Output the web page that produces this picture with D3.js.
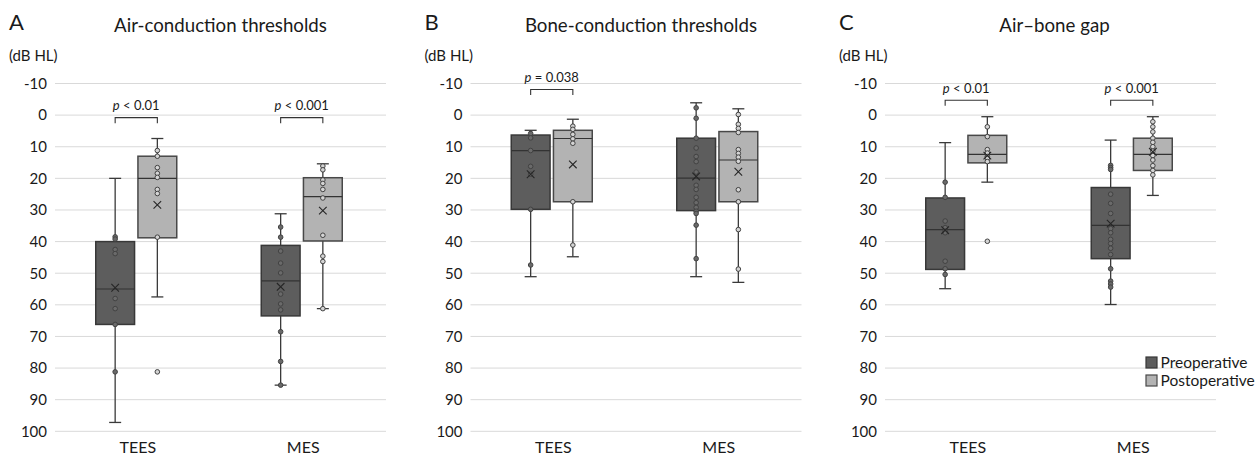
<!DOCTYPE html>
<html>
<head>
<meta charset="utf-8">
<script src="https://cdn.jsdelivr.net/npm/d3@7"></script>
<style>
  body { margin: 0; background: #fff; }
  text { font-family: Lato, "Noto Sans", sans-serif; fill: #1a1a1a; }
</style>
</head>
<body>
<div class="box"></div>
<script>
// categories / series
const categories = ['TEES', 'MES'];
const groups = ['Preoperative', 'Postoperative'];
const yTicks = [-10, 0, 10, 20, 30, 40, 50, 60, 70, 80, 90, 100];
const panelLetters = ['A', 'B', 'C'];
const panelTitles = ['Air-conduction thresholds', 'Bone-conduction thresholds', 'Air\u2013bone gap'];

// per panel, order: TEES pre, TEES post, MES pre, MES post  (dB HL)
const whiskerMin = [[20, 7.4, 31.2, 15.4], [4.8, 1.3, -3.9, -2.0], [8.7, 0.5, 7.9, 0.5]];
const quart1 = [[40, 13, 41.2, 19.8], [6.3, 4.8, 7.3, 5.2], [26.2, 6.4, 22.9, 7.3]];
const medians = [[55, 20, 52.4, 25.8], [11.2, 7.4, 19.9, 14.2], [36.2, 12.4, 34.9, 12.4]];
const quart3 = [[66.2, 38.8, 63.5, 39.8], [29.8, 27.4, 30.2, 27.4], [48.8, 15.1, 45.4, 17.5]];
const whiskerMax = [[97.2, 57.5, 85.4, 61.2], [51.1, 44.8, 51.1, 52.9], [54.9, 21.2, 59.9, 25.4]];
const means = [[54.6, 28.4, 54.3, 30.2], [18.7, 15.6, 19.4, 17.9], [36.4, 12.8, 34.3, 11.6]];
const airPoints = [
  [38.5, 39.2, 42.5, 43.8, 58, 61.2, 66.2, 81.2],
  [11.2, 13, 16.6, 18.4, 19.7, 23.5, 24.8, 38.6, 81.2],
  [35.4, 38.6, 43, 46.8, 49.9, 56.6, 59.7, 61.6, 68.5, 77.9, 85.4],
  [16.1, 17.3, 20.5, 21.6, 23.5, 26.2, 38, 44.6, 46.3, 61.2]
];
const bonePoints = [
  [5.8, 7.2, 11.2, 16.2, 18.7, 29.8, 47.4],
  [3.5, 4.5, 6.1, 7.5, 8.9, 27.4, 41.1],
  [-2.3, 1.0, 7.3, 10.4, 13.1, 14.7, 18, 22.2, 23.5, 26, 27.7, 29.2, 30.4, 31.1, 34.8, 45.4],
  [-0.2, 2.9, 4.2, 5.5, 10.9, 12.1, 13.3, 14.6, 23.6, 27.4, 36.2, 48.7]
];
const gapPoints = [
  [21.2, 26, 33.5, 35.6, 36.7, 37.2, 46.2, 48.6, 50.4],
  [3.7, 6.8, 10.9, 12, 13.1, 13.6, 14.7, 39.9],
  [15.9, 16.6, 17.2, 25, 27.9, 31.1, 35.9, 37.2, 39.3, 40.6, 42.1, 44.1, 48.6, 52.5, 53.4, 54.4],
  [2.1, 3.7, 5.3, 7.3, 8.6, 10, 11.4, 12.8, 14.2, 16, 17.5, 18.9]
];
const pointSets = [airPoints, bonePoints, gapPoints];
const pLabels = [['< 0.01', '< 0.001'], ['= 0.038', null], ['< 0.01', '< 0.001']];

// layout
const panelLeft = [55, 470.5, 885];
const plotW = 331;
const titleShift = [0, 5, 4];
const bracketLevel = [0.8, -8.1, -4.7];
const fills = ['#5d5d5d', '#b3b3b3'];
const strokes = ['#383838', '#484848'];
const dotFill = ['#6a6a6a', '#d4d4d4'];

const svg = d3.select('.box')
              .append('svg')
              .attr('width', 1255)
              .attr('height', 457)
              .style('background', '#fff');

const y = d3.scaleLinear().domain([-10, 100]).range([83.5, 431.3]);

panelTitles.forEach((title, p) => {
  const g = svg.append('g').attr('transform', `translate(${panelLeft[p]},0)`);
  const x = d3.scaleBand().domain(categories).range([0, plotW]);
  const inner = d3.scaleBand().domain(groups).range([-42, 39]).paddingInner(0.08);

  // grid
  g.selectAll('.grid')
   .data(yTicks)
   .enter()
   .append('line')
   .attr('x1', 0).attr('x2', plotW)
   .attr('y1', d => y(d)).attr('y2', d => y(d))
   .attr('stroke', '#d9d9d9')
   .attr('stroke-width', 1);

  // axes
  const axeY = g.append('g').call(d3.axisLeft(y).tickValues(yTicks).tickFormat(d => String(d)).tickSize(0).tickPadding(8));
  axeY.select('.domain').remove();
  axeY.selectAll('text').style('font-size', '15px').style('font-family', 'Lato').attr('fill', '#1a1a1a');

  const axeX = g.append('g').attr('transform', `translate(0, ${y(100)})`)
                .call(d3.axisBottom(x).tickSize(0).tickPadding(10));
  axeX.select('.domain').remove();
  axeX.selectAll('text').style('font-size', '16px').style('font-family', 'Lato').attr('fill', '#1a1a1a');

  // titles
  g.append('text').attr('x', -46).attr('y', 29.5).style('font-size', '22px').text(panelLetters[p]);
  g.append('text').attr('x', -46).attr('y', 60.5).style('font-size', '15px').text('(dB HL)');
  g.append('text').attr('x', plotW / 2 + titleShift[p]).attr('y', 32.3)
   .attr('text-anchor', 'middle').style('font-size', '18.7px').text(title);

  // boxes
  const boxes = [];
  categories.forEach((c, ci) => {
    groups.forEach((gr, gi) => {
      const i = ci * 2 + gi;
      boxes.push({
        cat: c, grp: gr, gi: gi,
        min: whiskerMin[p][i], q1: quart1[p][i], med: medians[p][i],
        q3: quart3[p][i], max: whiskerMax[p][i], mean: means[p][i],
        pts: pointSets[p][i]
      });
    });
  });
  const cx = d => x(d.cat) + x.bandwidth() / 2 + inner(d.grp) + inner.bandwidth() / 2;
  const bw = inner.bandwidth();

  const bg = g.selectAll('.bx').data(boxes).enter().append('g');

  // whiskers
  bg.append('line')
    .attr('x1', cx).attr('x2', cx)
    .attr('y1', d => y(d.min)).attr('y2', d => y(d.max))
    .attr('stroke', '#3a3a3a').attr('stroke-width', 1.3);
  bg.selectAll('.cap')
    .data(d => [d.min, d.max].map(v => ({ v: v, x: cx(d) })))
    .enter().append('line')
    .attr('x1', d => d.x - 6).attr('x2', d => d.x + 6)
    .attr('y1', d => y(d.v)).attr('y2', d => y(d.v))
    .attr('stroke', '#3a3a3a').attr('stroke-width', 1.3);

  bg.append('rect')
    .attr('x', d => cx(d) - bw / 2)
    .attr('width', bw)
    .attr('y', d => y(d.q1))
    .attr('height', d => y(d.q3) - y(d.q1))
    .attr('fill', d => fills[d.gi])
    .attr('stroke', d => strokes[d.gi])
    .attr('stroke-width', 1.5);

  bg.append('line')
    .attr('x1', d => cx(d) - bw / 2).attr('x2', d => cx(d) + bw / 2)
    .attr('y1', d => y(d.med)).attr('y2', d => y(d.med))
    .attr('stroke', '#333').attr('stroke-width', 1.2);

  // points
  bg.selectAll('circle')
    .data(d => d.pts.map(v => ({ v: v, x: cx(d), gi: d.gi })))
    .enter().append('circle')
    .attr('cx', d => d.x).attr('cy', d => y(d.v))
    .attr('r', 2.3)
    .attr('fill', d => dotFill[d.gi])
    .attr('stroke', '#424242')
    .attr('stroke-width', 1);

  // mean marker
  bg.append('path')
    .attr('d', d => {
      const mx = cx(d), my = y(d.mean), s = 3.8;
      return `M${mx - s},${my - s}L${mx + s},${my + s}M${mx - s},${my + s}L${mx + s},${my - s}`;
    })
    .attr('stroke', '#262626').attr('stroke-width', 1.1).attr('fill', 'none');

  // significance brackets
  categories.forEach((c, ci) => {
    if (!pLabels[p][ci]) return;
    const x0 = x(c) + x.bandwidth() / 2 + inner(groups[0]) + bw / 2;
    const x1 = x(c) + x.bandwidth() / 2 + inner(groups[1]) + bw / 2;
    const by = y(bracketLevel[p]);
    g.append('path')
     .attr('d', `M${x0},${by + 5.5}V${by}H${x1}V${by + 5.5}`)
     .attr('fill', 'none').attr('stroke', '#333').attr('stroke-width', 1.1);
    const t = g.append('text')
     .attr('x', (x0 + x1) / 2).attr('y', by - 7.5)
     .attr('text-anchor', 'middle').style('font-size', '13px');
    t.append('tspan').style('font-style', 'italic').text('p');
    t.append('tspan').text(' ' + pLabels[p][ci]);
  });

  // legend
  if (p === 2) {
    const lg = g.append('g').attr('transform', `translate(${plotW - 70}, 357)`);
    groups.forEach((gr, gi) => {
      lg.append('rect')
        .attr('x', 0).attr('y', gi * 18)
        .attr('width', 11).attr('height', 11)
        .attr('fill', fills[gi]).attr('stroke', strokes[gi]).attr('stroke-width', 1.2);
      lg.append('text')
        .attr('x', 14.5).attr('y', gi * 18 + 11)
        .style('font-size', '15.5px').text(gr);
    });
  }
});
</script>
</body>
</html>
